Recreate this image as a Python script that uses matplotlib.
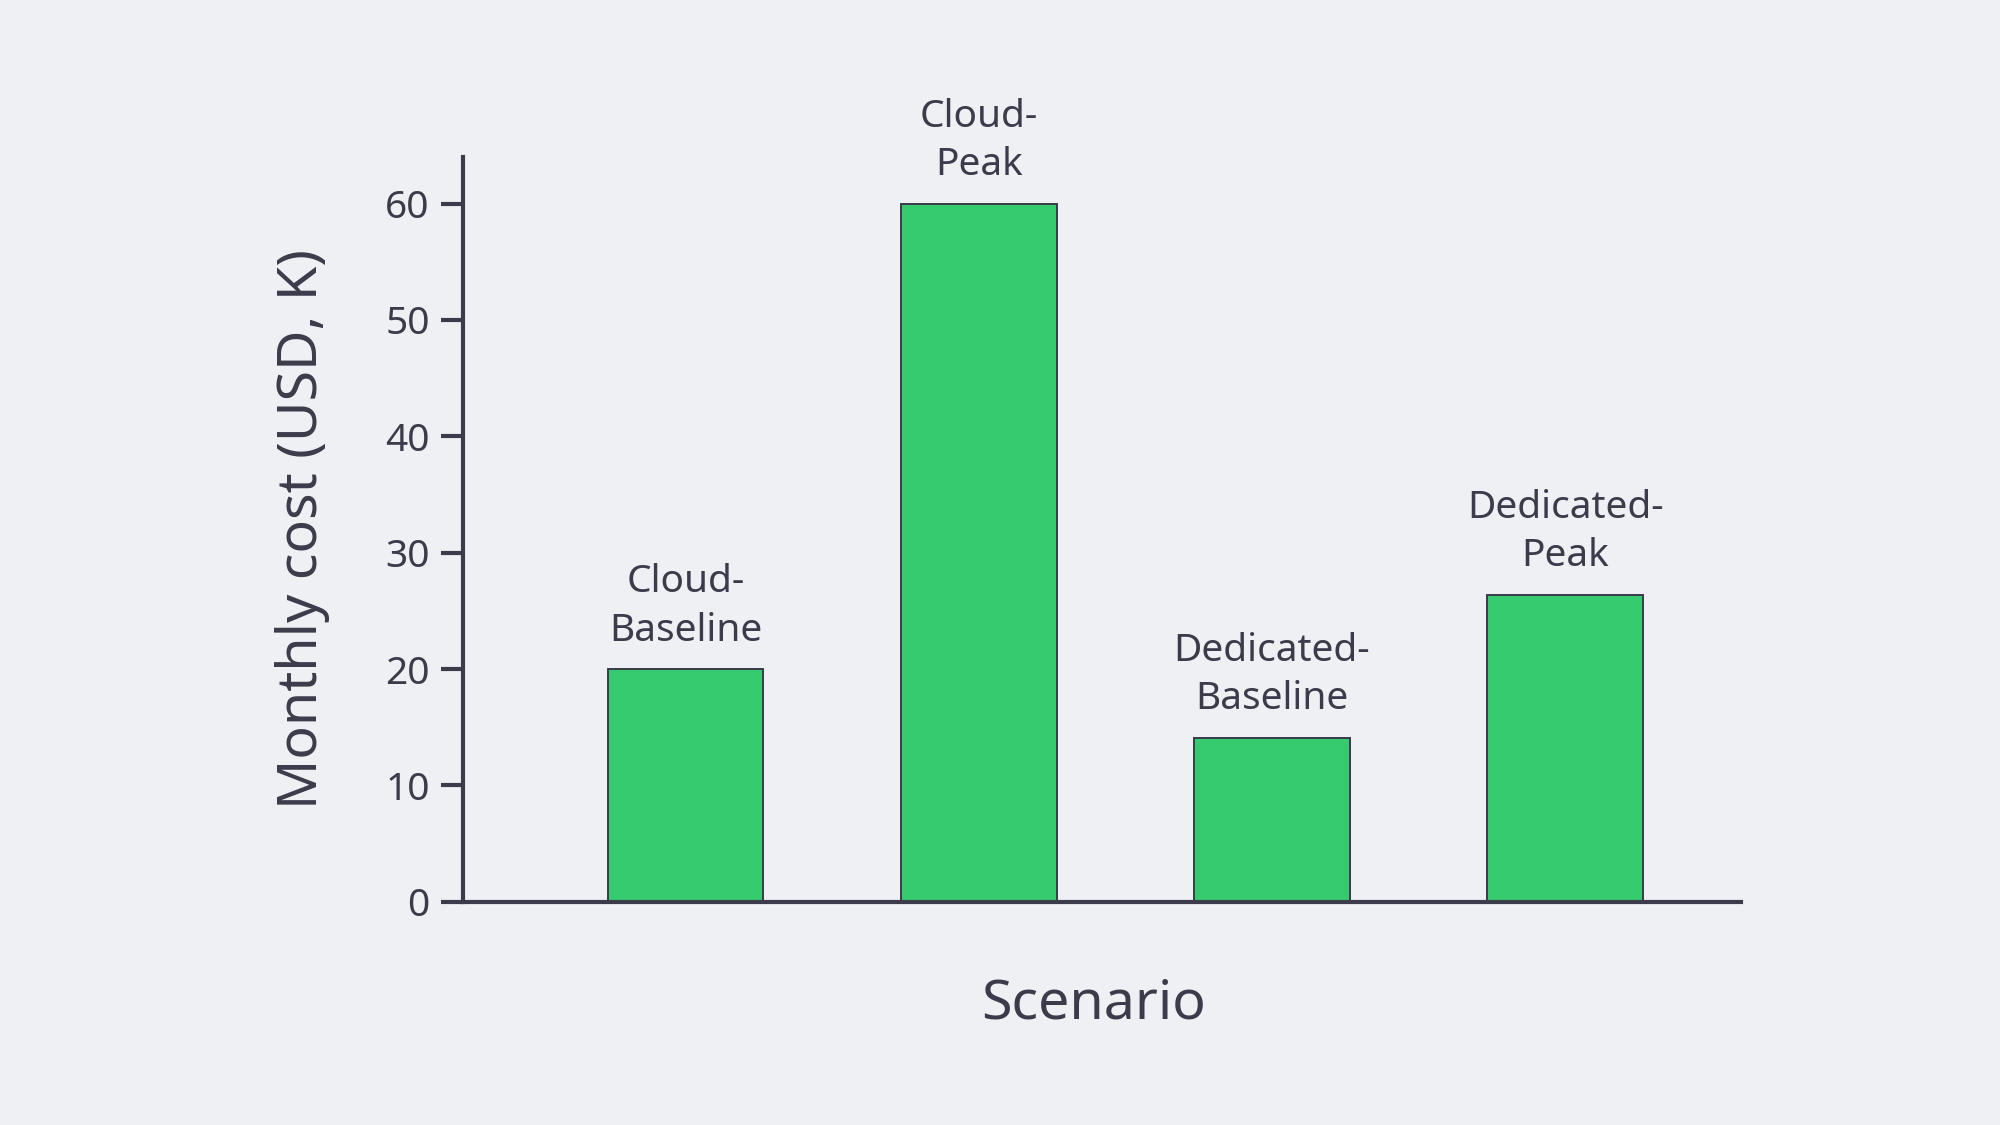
import matplotlib
matplotlib.use("Agg")
import matplotlib.pyplot as plt

scenarios = ["Cloud-\nBaseline", "Cloud-\nPeak", "Dedicated-\nBaseline", "Dedicated-\nPeak"]
costs = [20.0, 60.0, 14.1, 26.4]
yticks = [0, 10, 20, 30, 40, 50, 60]

BG = "#eff0f4"
INK = "#3b3b4b"
BAR = "#37cb70"

plt.rcParams["font.family"] = ["Noto Sans", "DejaVu Sans"]

fig = plt.figure(figsize=(10, 5.625), dpi=200, facecolor=BG)
ax = fig.add_axes([0.2315, 0.1984, 0.639, 0.662])
ax.set_facecolor(BG)

xs = list(range(len(scenarios)))
ax.bar(xs, costs, width=0.53, color=BAR, edgecolor=INK, linewidth=0.7, zorder=2)

# labels sit above each bar instead of x tick labels
for x, c, name in zip(xs, costs, scenarios):
    ax.annotate(name, (x, c), xytext=(0, 7), textcoords="offset points",
                ha="center", va="bottom", fontsize=14, color=INK, linespacing=1.35)

ax.set_xlim(-0.76, 3.6)
ax.set_ylim(0, 64)
ax.set_yticks(yticks)

for side in ["top", "right"]:
    ax.spines[side].set_visible(False)
for side in ["left", "bottom"]:
    ax.spines[side].set_color(INK)
    ax.spines[side].set_linewidth(1.5)

ax.tick_params(axis="y", length=8, width=1.5, color=INK, labelcolor=INK, labelsize=14, pad=4)
ax.tick_params(axis="x", bottom=False, labelbottom=False)

ax.set_xlabel("Scenario", fontsize=20, color=INK, labelpad=27)
ax.xaxis.label.set_x(0.493)
ax.set_ylabel("Monthly cost (USD, K)", fontsize=20, color=INK, labelpad=20)

fig.savefig("out.png", dpi=200, facecolor=BG)
